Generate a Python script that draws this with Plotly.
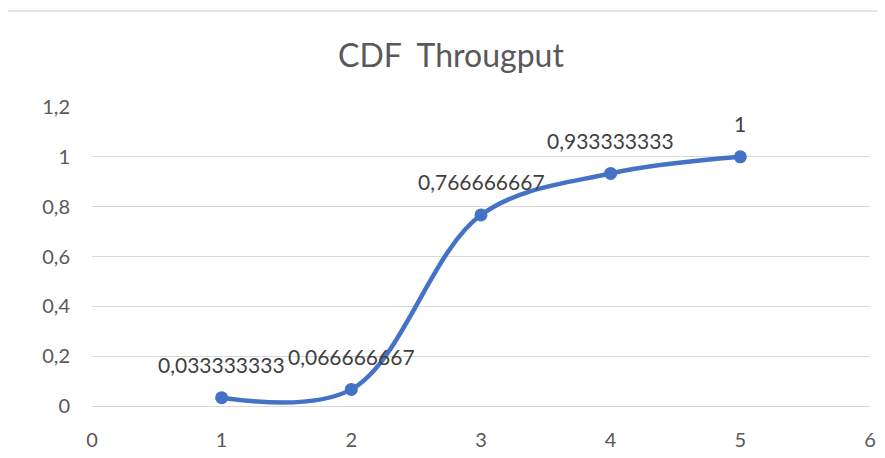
import plotly.graph_objects as go

x_vals = [1, 2, 3, 4, 5]
cdf_vals = [0.033333333, 0.066666667, 0.766666667, 0.933333333, 1]
labels = ["0,033333333", "0,066666667", "0,766666667", "0,933333333", "1"]
title_text = "CDF  Througput"

FONT = "Lato, Open Sans, sans-serif"
BLUE = "#4472C4"
GRID = "#d9d9d9"

fig = go.Figure()
fig.add_trace(go.Scatter(
    x=x_vals, y=cdf_vals, mode="lines+markers",
    line=dict(color=BLUE, width=4.5, shape="spline", smoothing=1.0),
    marker=dict(color=BLUE, size=13),
    hoverinfo="skip", showlegend=False,
))
for xv, yv, t in zip(x_vals, cdf_vals, labels):
    fig.add_annotation(x=xv, y=yv, text=t, showarrow=False, yshift=33,
                       font=dict(family=FONT, size=21, color="#404040"))

fig.add_shape(type="rect", xref="paper", yref="paper", x0=-0.1127, x1=1.3,
              y0=-1, y1=1.321, line=dict(color=GRID, width=1.5),
              fillcolor="rgba(0,0,0,0)", layer="below")

# page body has an 8px margin on each side; size the figure so the page fits the window
W, H = 869, 442
fig.update_layout(
    width=W, height=H,
    margin=dict(l=84, r=7, t=99, b=44, autoexpand=False),
    paper_bgcolor="white", plot_bgcolor="white",
    separators=",.",
    title=dict(text=title_text, x=(451 - 8) / W, xanchor="center", y=1 - (56 - 8) / H,
               yanchor="middle", font=dict(family=FONT, size=32, color="#595959")),
    font=dict(family=FONT, size=21, color="#595959"),
    xaxis=dict(range=[0, 6], dtick=1, tick0=0, showgrid=False, zeroline=False,
               showline=False, ticks="", ticklabelstandoff=20, ticklabeloverflow="allow",
               automargin=False, tickfont=dict(size=20, color="#595959")),
    yaxis=dict(range=[0, 1.2], dtick=0.2, tick0=0, showgrid=True, gridcolor=GRID,
               gridwidth=1.2, zeroline=True, zerolinecolor=GRID, zerolinewidth=1.2,
               showline=False, ticks="", ticklabelstandoff=21, automargin=False,
               tickfont=dict(size=20, color="#595959")),
)
fig.write_html("out.html")
